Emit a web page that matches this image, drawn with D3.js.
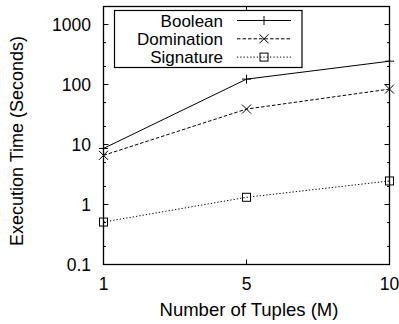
<!DOCTYPE html>
<html><head><meta charset="utf-8">
<script src="https://cdn.jsdelivr.net/npm/d3@7"></script>
<style>body{margin:0;background:#fff}svg{display:block}text{font-family:"Liberation Sans",Arial,sans-serif;fill:#000}</style>
</head><body>
<svg id="c" width="399" height="324"></svg>
<script>
const categories = ["1", "5", "10"];
const seriesNames = ["Boolean", "Domination", "Signature"];
const booleanVals = [8.6, 123, 245];
const dominationVals = [6.6, 39, 84];
const signatureVals = [0.51, 1.32, 2.47];
const yTickLabels = ["0.1", "1", "10", "100", "1000"];
const yTickValues = [0.1, 1, 10, 100, 1000];

const series = [
  {name: seriesNames[0], values: booleanVals, dash: null, marker: "plus"},
  {name: seriesNames[1], values: dominationVals, dash: "3.5,2", marker: "cross"},
  {name: seriesNames[2], values: signatureVals, dash: "1.3,2", marker: "square"}
];

const L = 103.5, R = 389.5, T = 6.5, B = 264.5;
const svg = d3.select("#c");
const x = d3.scalePoint().domain(categories).range([L, R]);
const y = d3.scaleLog().domain([0.1, 2000]).range([B, T]);

const minor = [];
[0.1, 1, 10, 100, 1000].forEach(d => { [2, 5].forEach(m => { if (d*m <= 2000) minor.push(d*m); }); });

const g = svg.append("g");
function yTicks(xPos, dir) {
  g.selectAll(null).data(yTickValues).enter().append("line")
    .attr("x1", xPos).attr("x2", xPos + dir*5)
    .attr("y1", d => y(d)).attr("y2", d => y(d)).attr("stroke", "#000").attr("stroke-width", 1);
  g.selectAll(null).data(minor).enter().append("line")
    .attr("x1", xPos).attr("x2", xPos + dir*2.5)
    .attr("y1", d => y(d)).attr("y2", d => y(d)).attr("stroke", "#000").attr("stroke-width", 1);
}
yTicks(L, 1); yTicks(R, -1);
function xTicks(yPos, dir) {
  g.selectAll(null).data(categories).enter().append("line")
    .attr("x1", d => x(d)).attr("x2", d => x(d))
    .attr("y1", yPos).attr("y2", yPos + dir*5).attr("stroke", "#000").attr("stroke-width", 1);
}
xTicks(B, -1); xTicks(T, 1);

g.append("rect").attr("x", L).attr("y", T).attr("width", R-L).attr("height", B-T)
  .attr("fill", "none").attr("stroke", "#000").attr("stroke-width", 1.3);

g.selectAll(null).data(yTickValues).enter().append("text")
  .attr("x", L - 12.5).attr("y", d => y(d)).attr("dy", "0.36em")
  .attr("text-anchor", "end").attr("font-size", 17.5)
  .text((d,i) => yTickLabels[i]);
g.selectAll(null).data(categories).enter().append("text")
  .attr("x", d => x(d)).attr("y", 283.5).attr("dy", "0.36em")
  .attr("text-anchor", "middle").attr("font-size", 17.5).text(d => d);

svg.append("text").attr("x", 249).attr("y", 309).attr("dy", "0.36em")
  .attr("text-anchor", "middle").attr("font-size", 18.5).text("Number of Tuples (M)");
svg.append("text").attr("transform", "translate(17,141) rotate(-90)").attr("dy", "0.36em")
  .attr("text-anchor", "middle").attr("font-size", 18).text("Execution Time (Seconds)");

function marker(sel, type, cx, cy) {
  const s = 4.5;
  if (type === "plus") {
    sel.append("path").attr("d", `M${cx-s},${cy}H${cx+s}M${cx},${cy-s}V${cy+s}`).attr("stroke", "#000").attr("stroke-width", 1).attr("fill", "none");
  } else if (type === "cross") {
    sel.append("path").attr("d", `M${cx-s},${cy-s}L${cx+s},${cy+s}M${cx-s},${cy+s}L${cx+s},${cy-s}`).attr("stroke", "#000").attr("stroke-width", 1).attr("fill", "none");
  } else {
    sel.append("rect").attr("x", cx-s+0.5).attr("y", cy-s+0.5).attr("width", 2*s-1).attr("height", 2*s-1).attr("stroke", "#000").attr("stroke-width", 1).attr("fill", "none");
  }
}

const line = d3.line().x((d,i) => x(categories[i])).y(d => y(d));
series.forEach(s => {
  g.append("path").attr("d", line(s.values)).attr("fill", "none").attr("stroke", "#000")
    .attr("stroke-width", 1).attr("stroke-dasharray", s.dash);
  s.values.forEach((v,i) => marker(g, s.marker, x(categories[i]), y(v)));
});

const lg = svg.append("g");
lg.append("rect").attr("x", 114.5).attr("y", 10.5).attr("width", 187.5).attr("height", 57)
  .attr("fill", "#fff").attr("stroke", "#000").attr("stroke-width", 1.2);
series.forEach((s, i) => {
  const cy = 20.5 + i*18.3;
  lg.append("text").attr("x", 223).attr("y", cy).attr("dy", "0.36em").attr("text-anchor", "end")
    .attr("font-size", 17).text(s.name);
  lg.append("line").attr("x1", 237).attr("x2", 291).attr("y1", cy).attr("y2", cy)
    .attr("stroke", "#000").attr("stroke-width", 1).attr("stroke-dasharray", s.dash);
  marker(lg, s.marker, 264, cy);
});
</script>
</body></html>
